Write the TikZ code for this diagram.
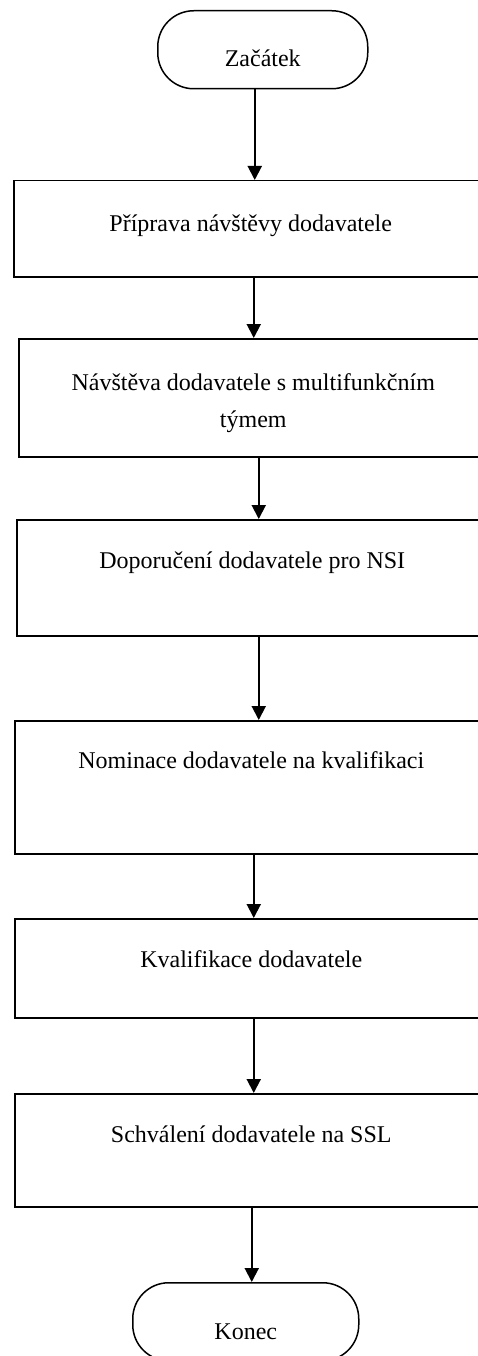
\documentclass[tikz,border=0pt]{standalone}
\usepackage{fontspec}
\setmainfont{Liberation Serif}
\usetikzlibrary{arrows.meta}
\begin{document}
\begin{tikzpicture}[x=1pt,y=-1pt,
  stepbox/.style={draw,line width=1.5pt,rectangle,inner sep=0pt,anchor=north west},
  termbox/.style={draw,line width=1.5pt,rectangle,rounded corners=36pt,inner sep=0pt,anchor=north west,minimum height=78pt},
  steptext/.style={anchor=base,inner sep=0pt,font=\fontsize{24pt}{37pt}\selectfont},
  flow/.style={line width=2pt,-{Triangle[length=14pt,width=14pt]}}]
\useasboundingbox (0,0) rectangle (478,1356);
\clip (0,0) rectangle (478,1356);
\node [termbox,minimum width=210pt] (start) at (157,10) {};
\node [steptext] (tstart) at ([yshift=-57pt]start.north) {Začátek};
\node [stepbox,minimum width=474pt,minimum height=96pt] (b1) at (13,180) {};
\node [steptext] (t1) at ([yshift=-52pt]b1.north) {Příprava návštěvy dodavatele};
\node [stepbox,minimum width=469pt,minimum height=118pt] (b2) at (18,338) {};
\node [steptext,align=center] (t2) at ([yshift=-89pt]b2.north) {Návštěva dodavatele s multifunkčním\\týmem};
\node [stepbox,minimum width=471pt,minimum height=116pt] (b3) at (16,519) {};
\node [steptext] (t3) at ([yshift=-49pt]b3.north) {Doporučení dodavatele pro NSI};
\node [stepbox,minimum width=473pt,minimum height=133pt] (b4) at (14,720) {};
\node [steptext] (t4) at ([yshift=-48pt]b4.north) {Nominace dodavatele na kvalifikaci};
\node [stepbox,minimum width=473pt,minimum height=99pt] (b5) at (14,918) {};
\node [steptext] (t5) at ([yshift=-49pt]b5.north) {Kvalifikace dodavatele};
\node [stepbox,minimum width=473pt,minimum height=113pt] (b6) at (14,1093) {};
\node [steptext] (t6) at ([yshift=-49pt]b6.north) {Schválení dodavatele na SSL};
\node [termbox,minimum width=226pt] (end) at (132,1282) {};
\node [steptext] (tend) at ([yshift=-57pt]end.north) {Konec};
\draw [flow] ([xshift=-8pt]start.south) -- ([xshift=4pt]b1.north);
\draw [flow] ([xshift=3pt]b1.south) -- ([xshift=0.5pt]b2.north);
\draw [flow] ([xshift=5.5pt]b2.south) -- ([xshift=6.5pt]b3.north);
\draw [flow] ([xshift=6.5pt]b3.south) -- ([xshift=7.5pt]b4.north);
\draw [flow] ([xshift=2.5pt]b4.south) -- ([xshift=2.5pt]b5.north);
\draw [flow] ([xshift=2.5pt]b5.south) -- ([xshift=2.5pt]b6.north);
\draw [flow] ([xshift=0.5pt]b6.south) -- ([xshift=6pt]end.north);
\end{tikzpicture}
\end{document}
